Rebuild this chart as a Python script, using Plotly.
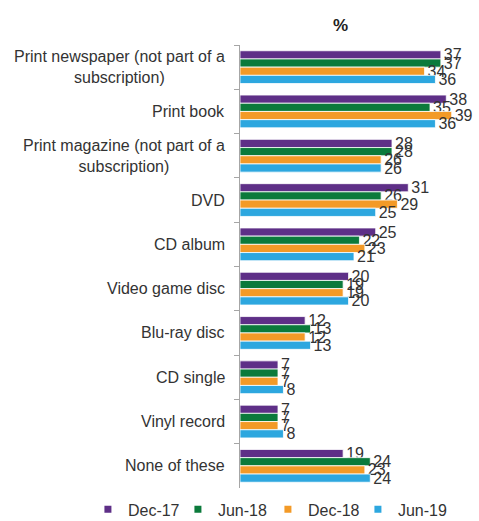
import plotly.graph_objects as go

# Media formats bought, share of respondents (%) by survey wave
categories = [
    "Print newspaper (not part of a<br>subscription)",
    "Print book",
    "Print magazine (not part of a<br>subscription)",
    "DVD",
    "CD album",
    "Video game disc",
    "Blu-ray disc",
    "CD single",
    "Vinyl record",
    "None of these",
]
dec_17 = [37, 38, 28, 31, 25, 20, 12, 7, 7, 19]
jun_18 = [37, 35, 28, 26, 22, 19, 13, 7, 7, 24]
dec_18 = [34, 39, 26, 29, 23, 19, 12, 7, 7, 23]
jun_19 = [36, 36, 26, 25, 21, 20, 13, 8, 8, 24]

series = [
    ("Dec-17", dec_17, "#5E2F87"),
    ("Jun-18", jun_18, "#0B7A3B"),
    ("Dec-18", dec_18, "#F39A27"),
    ("Jun-19", jun_19, "#2DA7DF"),
]

FONT = "Liberation Sans, Arial, sans-serif"
TXT = "#333333"

fig = go.Figure()
for name, vals, color in series:
    fig.add_trace(go.Bar(
        y=categories, x=vals, name=name, orientation="h",
        marker=dict(color=color, line=dict(color="white", width=0.8)),
        text=[str(v) for v in vals], textposition="outside",
        constraintext="none", cliponaxis=False,
        textfont=dict(family=FONT, size=16, color=TXT),
        showlegend=False,
    ))
    # square legend swatches
    fig.add_trace(go.Scatter(
        x=[None], y=[None], mode="markers", name=name,
        marker=dict(symbol="square", size=7, color=color),
    ))

# category labels: right-aligned block, lines centred within it
for cat in categories:
    fig.add_annotation(
        x=-0.055, xref="paper", y=cat, yref="y",
        text=cat, showarrow=False, xanchor="right", align="center",
        font=dict(family=FONT, size=16, color=TXT),
    )

fig.add_annotation(
    x=(340 - 240) / 228, xref="paper", y=1.045, yref="paper", yanchor="middle",
    text="<b>%</b>", showarrow=False,
    font=dict(family=FONT, size=17, color="#222222"),
)

fig.update_layout(
    width=479, height=521,
    margin=dict(l=240, r=11, t=45, b=33, autoexpand=False),
    paper_bgcolor="white", plot_bgcolor="white",
    barmode="group", bargap=0.26, bargroupgap=0.0,
    font=dict(family=FONT, size=16, color=TXT),
    xaxis=dict(range=[0, 42], visible=False),
    yaxis=dict(
        autorange="reversed", type="category",
        showticklabels=False, tickson="boundaries",
        ticks="outside", ticklen=5, tickcolor="#A6A6A6",
        showline=True, linecolor="#A6A6A6", linewidth=1,
        showgrid=False,
    ),
    legend=dict(
        orientation="h", xref="paper", yref="paper",
        x=-0.667, xanchor="left", y=-0.01, yanchor="top",
        font=dict(family=FONT, size=16, color=TXT),
        itemwidth=30, tracegroupgap=0,
        entrywidth=45, entrywidthmode="pixels",
    ),
)

fig.write_html("out.html")
